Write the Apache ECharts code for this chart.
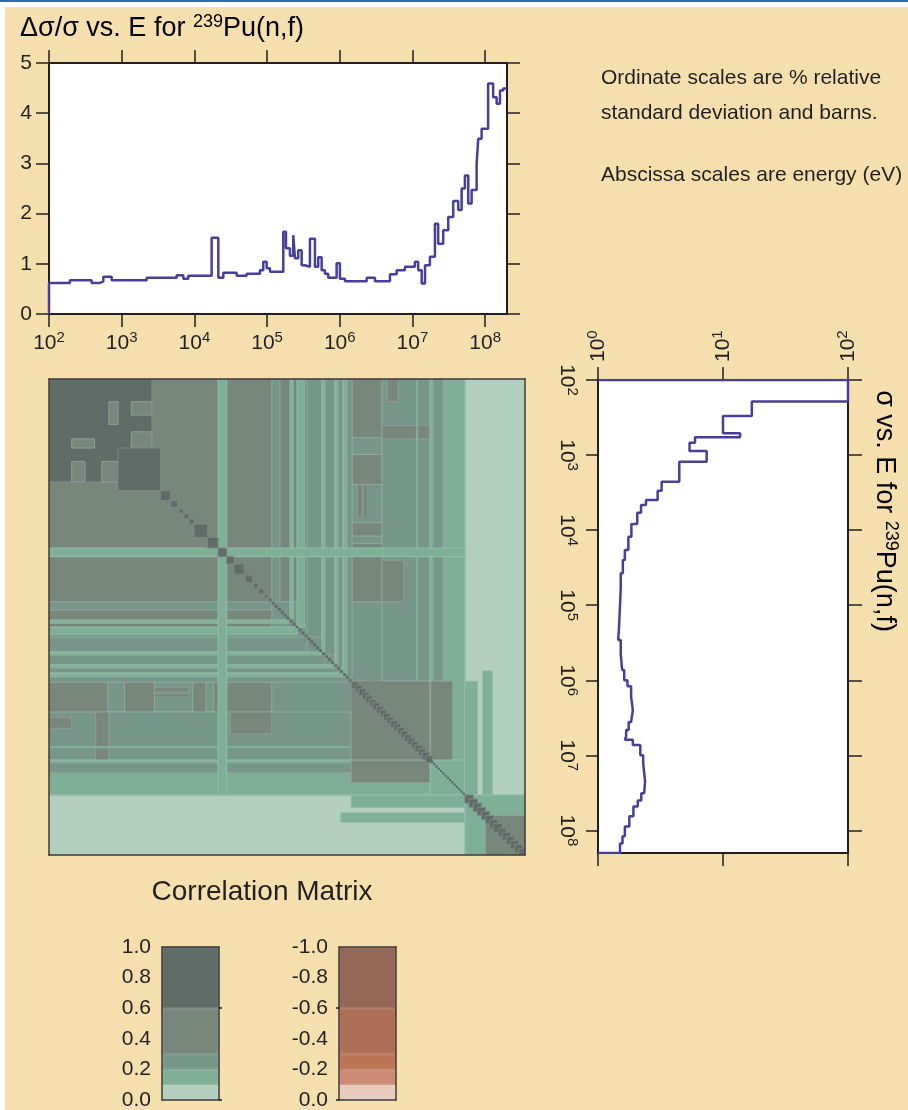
<!DOCTYPE html>
<html>
<head>
<meta charset="utf-8">
<script src="https://cdn.jsdelivr.net/npm/echarts@6/dist/echarts.min.js"></script>
<style>
  html, body { margin: 0; padding: 0; background: #ffffff; }
  #wrap { position: relative; width: 908px; height: 1110px; overflow: hidden; }
  #topline { position: absolute; left: 0; top: 0; width: 908px; height: 2px; background: #2d6db3; }
  #panel { position: absolute; left: 5px; top: 7px; width: 903px; height: 1103px; background: #f6dfaf; }
  #chart { position: absolute; left: 0; top: 0; width: 908px; height: 1110px; }
</style>
</head>
<body>
<div id="wrap">
  <div id="topline"></div>
  <div id="panel"></div>
  <div id="chart"></div>
</div>
<script>
// ---- 239Pu(n,f): relative standard deviation (%), group lower edges in eV ----
const uncEdges = [
  100, 194, 386, 503, 559, 728, 2207, 5706, 7047, 8245,
  17280, 21340, 25000, 38190, 52360, 79800, 88700, 98800, 109700, 167200,
  182000, 206500, 229300, 241900, 268500, 299200, 331900, 388900, 455900, 505800,
  563600, 625300, 695000, 905700, 1.006e6, 1.18e6, 2.345e6, 3.05e6, 4.91e6, 6.07e6,
  7.89e6, 1.08e7, 1.2e7, 1.34e7, 1.49e7, 1.74e7, 2.04e7, 2.26e7, 2.65e7, 3.11e7,
  3.64e7, 4.27e7, 4.75e7, 5.27e7, 5.86e7, 6.52e7, 7.64e7, 8.04e7, 8.95e7, 1.10e8,
  1.29e8, 1.44e8, 1.60e8, 1.77e8
];
const uncValues = [
  0.62, 0.67, 0.62, 0.65, 0.74, 0.67, 0.72, 0.77, 0.70, 0.76,
  1.52, 0.72, 0.82, 0.76, 0.80, 0.87, 1.04, 0.91, 0.84, 1.64,
  1.31, 1.16, 1.57, 1.11, 1.27, 0.97, 0.94, 1.50, 0.94, 1.13,
  0.87, 0.80, 0.72, 1.01, 0.70, 0.65, 0.72, 0.65, 0.79, 0.87,
  0.94, 1.04, 0.87, 0.61, 0.97, 1.14, 1.80, 1.40, 1.67, 1.93,
  2.25, 2.07, 2.50, 2.76, 2.20, 2.47, 3.00, 3.49, 3.69, 4.59,
  4.32, 4.19, 4.45, 4.49
];

// ---- 239Pu(n,f) cross section (barns), group lower edges in eV ----
const xsEdges = [
  100, 194, 302, 513, 580, 684, 882, 1224, 2260, 2978,
  3963, 4617, 5845, 8265, 12210, 18360, 24950, 37510, 60000, 1.0e5,
  2.1e5, 2.9e5, 4.5e5, 7.3e5, 1.0e6, 1.2e6, 1.65e6, 2.5e6, 3.6e6, 4.6e6,
  5.6e6, 6.2e6, 7.3e6, 1.0e7, 1.3e7, 2.2e7, 3.2e7, 4.0e7, 4.8e7, 6.5e7,
  8.9e7, 1.2e8, 1.5e8
];
const xsValues = [
  100, 17, 10, 13.7, 5.97, 5.4, 7.4, 4.47, 3.23, 3.0,
  2.42, 2.21, 2.06, 1.85, 1.75, 1.64, 1.58, 1.52, 1.50, 1.47,
  1.45, 1.52, 1.56, 1.62, 1.72, 1.84, 1.90, 1.84, 1.76, 1.68,
  1.64, 1.90, 2.18, 2.30, 2.38, 2.34, 2.22, 2.08, 1.92, 1.78,
  1.64, 1.57, 1.50
];
const energyMin = 100, energyMax = 2e8;

// ---- correlation matrix: blocks [E1lo, E1hi, E2lo, E2hi, r]; each is also drawn transposed ----
const corrBlocks = [
  // background levels
  [100, 2e8, 100, 2e8, 0.05],
  [100, 3.2e7, 100, 3.2e7, 0.45],
  // resolved resonance region
  [100, 2300, 100, 2300, 0.8],
  [620, 820, 200, 400, 0.45],
  [1230, 2300, 200, 300, 0.45],
  [1230, 2300, 500, 820, 0.45],
  [820, 3000, 820, 3000, 0.8],
  // fast region around the diagonal
  [8.9e4, 1.13e7, 8.9e4, 1.13e7, 0.25],
  [9.9e5, 1.13e7, 9.9e5, 1.13e7, 0.45],
  // fast groups against lower groups
  [8.9e4, 1.14e5, 100, 8.9e4, 0.25],
  [1.55e5, 1.70e5, 100, 1.55e5, 0.15],
  [1.92e5, 2.45e5, 100, 1.92e5, 0.15],
  [2.45e5, 2.60e5, 100, 2.45e5, 0.25],
  [2.60e5, 4.11e5, 100, 2.60e5, 0.25],
  [4.11e5, 4.51e5, 100, 4.11e5, 0.15],
  [4.51e5, 6.11e5, 100, 4.51e5, 0.25],
  [6.11e5, 6.70e5, 100, 6.11e5, 0.15],
  [6.70e5, 7.8e5, 100, 6.70e5, 0.25],
  [7.8e5, 8.8e5, 100, 7.8e5, 0.15],
  [8.8e5, 1.03e6, 100, 8.8e5, 0.25],
  [1.03e6, 2.56e6, 600, 1000, 0.25],
  [1.03e6, 2.56e6, 2500, 8000, 0.25],
  [1.2e6, 1.4e6, 2500, 7000, 0.45],
  [1.5e6, 1.6e6, 2500, 7000, 0.45],
  [1.03e6, 2.56e6, 1.2e4, 1.5e4, 0.25],
  [2.56e6, 1.11e7, 100, 9.9e5, 0.25],
  [3.0e6, 4.2e6, 100, 200, 0.45],
  [2.56e6, 1.11e7, 415, 620, 0.45],
  [2.56e6, 5.0e6, 2.5e4, 8.9e4, 0.45],
  [7.2e6, 7.7e6, 100, 9.9e5, 0.15],
  // 11-32 MeV groups
  [1.11e7, 3.2e7, 100, 1.11e7, 0.15],
  [1.21e7, 1.64e7, 100, 1.0e6, 0.25],
  [1.13e7, 2.2e7, 1.0e6, 1.11e7, 0.45],
  [1.11e7, 3.2e7, 1.11e7, 3.2e7, 0.15],
  // group around 20 keV
  [1.73e4, 2.25e4, 100, 1.73e4, 0.15],
  [2.25e4, 3.2e7, 1.73e4, 2.25e4, 0.15],
  // above 32 MeV
  [3.2e7, 2e8, 3.2e7, 2e8, 0.15],
  [6.0e7, 2e8, 6.0e7, 2e8, 0.45],
  [3.2e7, 4.7e7, 1.0e6, 3.2e7, 0.15],
  [5.5e7, 7.4e7, 7.3e5, 3.2e7, 0.15]
];
// self-correlation squares on the diagonal (eV ranges)
const diagSquares = [
  [3000, 4080], [4080, 5000], [5260, 6000], [6120, 7130], [7130, 8310], [8310, 1.25e4],
  [1.25e4, 1.73e4], [1.73e4, 2.25e4], [2.25e4, 2.81e4], [2.81e4, 3.82e4], [3.95e4, 4.92e4],
  [5.1e4, 5.85e4], [6.0e4, 7.0e4], [7.1e4, 7.9e4], [8.0e4, 8.9e4]
];
// fine groups along the diagonal
const diagFineMid = [8.9e4, 9.8e4, 1.07e5, 1.17e5, 1.28e5, 1.4e5, 1.53e5, 1.68e5, 1.84e5, 2.0e5,
  2.2e5, 2.4e5, 2.63e5, 2.88e5, 3.15e5, 3.45e5, 3.78e5, 4.13e5, 4.52e5, 4.95e5,
  5.42e5, 5.93e5, 6.5e5, 7.1e5, 7.8e5, 8.5e5, 9.3e5, 1.02e6];
const diagFineHigh = [1.13e7, 1.22e7, 1.3e7, 1.4e7, 1.5e7, 1.6e7, 1.72e7, 1.84e7, 1.97e7, 2.1e7,
  2.26e7, 2.42e7, 2.6e7, 2.78e7, 2.98e7, 3.2e7];
// groups strongly correlated with their neighbours (band along the diagonal)
const diagBandMid = [1.02e6, 1.13e6, 1.26e6, 1.4e6, 1.56e6, 1.74e6, 1.93e6, 2.15e6, 2.4e6, 2.67e6,
  2.97e6, 3.3e6, 3.68e6, 4.1e6, 4.55e6, 5.07e6, 5.64e6, 6.28e6, 7.0e6, 7.8e6, 8.7e6, 9.7e6, 1.08e7, 1.2e7];
const diagBandTop = [3.2e7, 3.63e7, 4.12e7, 4.68e7, 5.3e7, 6.0e7, 6.8e7, 7.7e7, 8.8e7, 1.0e8,
  1.13e8, 1.28e8, 1.45e8, 1.65e8, 1.87e8, 2.0e8];

// ---- colour key ----
const bandLimits = [0, 0.1, 0.2, 0.3, 0.6, 1.0];
const posColors = ['#b2cebd', '#7faf97', '#769689', '#78877c', '#606c67'];
const negColors = ['#e8cbbd', '#cd8a77', '#bc7454', '#ad6e58', '#946656'];

const decadeTicks = [1e2, 1e3, 1e4, 1e5, 1e6, 1e7, 1e8];
const sigmaTicks = [1, 10, 100];

const FONT = "'Liberation Sans', Arial, Helvetica, sans-serif";
const INK = '#231f20';
const LINE = '#473f9b';

function corrColor(r) {
  const a = Math.abs(r);
  let i = 0;
  while (i < bandLimits.length - 2 && a >= bandLimits[i + 1]) i++;
  return (r >= 0 ? posColors : negColors)[i];
}
function lighten(hex, k) {
  const n = parseInt(hex.slice(1), 16);
  const c = [(n >> 16) & 255, (n >> 8) & 255, n & 255].map(v => Math.round(v + (255 - v) * k));
  return 'rgb(' + c.join(',') + ')';
}
function stepPoints(edges, values, top) {
  const pts = [];
  values.forEach((v, i) => {
    const hi = i + 1 < edges.length ? edges[i + 1] : top;
    pts.push([edges[i], v], [hi, v]);
  });
  return pts;
}

// line data
const uncLine = [[energyMin, 0]].concat(stepPoints(uncEdges, uncValues, energyMax));
const xsLine = [[1, energyMin]]
  .concat(stepPoints(xsEdges, xsValues, energyMax).map(p => [p[1], p[0]]))
  .concat([[1, energyMax]]);

// matrix cells
const matrixCells = [];
corrBlocks.forEach(b => {
  matrixCells.push(b);
  if (!(b[0] === b[2] && b[1] === b[3])) matrixCells.push([b[2], b[3], b[0], b[1], b[4]]);
});
diagSquares.forEach(s => matrixCells.push([s[0], s[1], s[0], s[1], 1.0]));
[diagBandMid, diagBandTop].forEach(e => {
  for (let i = 0; i + 2 < e.length; i++) matrixCells.push([e[i], e[i + 2], e[i], e[i + 2], 1.0]);
});
[diagFineMid, diagFineHigh].forEach(e => {
  for (let i = 0; i + 1 < e.length; i++) matrixCells.push([e[i], e[i + 1], e[i], e[i + 1], 1.0]);
});

// ---- axis helpers ----
const pow10 = v => '{b|10}{s|' + Math.round(Math.log10(v)) + '}';
const powRich = {
  b: { fontFamily: FONT, fontSize: 21, color: INK },
  s: { fontFamily: FONT, fontSize: 15, color: INK, padding: [0, 0, 11, 0] }
};
function frameLine(color, width) {
  return { show: true, onZero: false, lineStyle: { color: color, width: width } };
}
function ticks(values, len) {
  const t = { show: true, length: len, inside: false, lineStyle: { color: INK, width: 1.5 } };
  if (values) t.customValues = values;
  return t;
}
const noLabel = { show: false };
const noSplit = { show: false };
const noTick = { show: false };
const FRAME = '#3a3a3a';

const xAxes = [
  // 0,1: uncertainty plot
  { gridIndex: 0, type: 'log', logBase: 10, min: energyMin, max: energyMax, position: 'bottom',
    axisLine: frameLine(INK, 2), axisTick: ticks(decadeTicks, 13),
    axisLabel: { show: true, customValues: decadeTicks, formatter: pow10, rich: powRich, margin: 16 },
    splitLine: noSplit },
  { gridIndex: 0, type: 'log', logBase: 10, min: energyMin, max: energyMax, position: 'top',
    axisLine: frameLine(INK, 2), axisTick: ticks(decadeTicks, 13), axisLabel: noLabel, splitLine: noSplit },
  // 2,3: cross-section plot (sigma across)
  { gridIndex: 1, type: 'log', logBase: 10, min: 1, max: 100, position: 'top',
    axisLine: frameLine(INK, 2), axisTick: ticks(sigmaTicks, 13),
    axisLabel: { show: true, customValues: sigmaTicks, formatter: pow10, rich: powRich, rotate: -90, margin: 18 },
    splitLine: noSplit },
  { gridIndex: 1, type: 'log', logBase: 10, min: 1, max: 100, position: 'bottom',
    axisLine: frameLine(INK, 2), axisTick: ticks(sigmaTicks, 13), axisLabel: noLabel, splitLine: noSplit },
  // 4,5: correlation matrix frame
  { gridIndex: 2, type: 'log', logBase: 10, min: energyMin, max: energyMax, position: 'bottom', z: 10,
    axisLine: frameLine(FRAME, 1.5), axisTick: noTick, axisLabel: noLabel, splitLine: noSplit },
  { gridIndex: 2, type: 'log', logBase: 10, min: energyMin, max: energyMax, position: 'top', z: 10,
    axisLine: frameLine(FRAME, 1.5), axisTick: noTick, axisLabel: noLabel, splitLine: noSplit },
  // 6,7: positive key
  { gridIndex: 3, type: 'category', data: ['r'], position: 'bottom', z: 10,
    axisLine: frameLine(FRAME, 1.5), axisTick: noTick, axisLabel: noLabel, splitLine: noSplit },
  { gridIndex: 3, type: 'category', data: ['r'], position: 'top', z: 10,
    axisLine: frameLine(FRAME, 1.5), axisTick: noTick, axisLabel: noLabel, splitLine: noSplit },
  // 8,9: negative key
  { gridIndex: 4, type: 'category', data: ['r'], position: 'bottom', z: 10,
    axisLine: frameLine(FRAME, 1.5), axisTick: noTick, axisLabel: noLabel, splitLine: noSplit },
  { gridIndex: 4, type: 'category', data: ['r'], position: 'top', z: 10,
    axisLine: frameLine(FRAME, 1.5), axisTick: noTick, axisLabel: noLabel, splitLine: noSplit }
];

const keyLabel = { show: true, fontFamily: FONT, fontSize: 21, color: INK, margin: 11, formatter: v => Number(v).toFixed(1) };

const yAxes = [
  // 0,1: uncertainty plot
  { gridIndex: 0, type: 'value', min: 0, max: 5, interval: 1, position: 'left',
    axisLine: frameLine(INK, 2), axisTick: ticks(null, 13),
    axisLabel: { show: true, fontFamily: FONT, fontSize: 21, color: INK, margin: 17 }, splitLine: noSplit },
  { gridIndex: 0, type: 'value', min: 0, max: 5, interval: 1, position: 'right',
    axisLine: frameLine(INK, 2), axisTick: ticks(null, 13), axisLabel: noLabel, splitLine: noSplit },
  // 2,3: cross-section plot (energy downwards)
  { gridIndex: 1, type: 'log', logBase: 10, min: energyMin, max: energyMax, inverse: true, position: 'left',
    axisLine: frameLine(INK, 2), axisTick: ticks(decadeTicks, 12),
    axisLabel: { show: true, customValues: decadeTicks, formatter: pow10, rich: powRich, rotate: -90, margin: 18 },
    splitLine: noSplit },
  { gridIndex: 1, type: 'log', logBase: 10, min: energyMin, max: energyMax, inverse: true, position: 'right',
    axisLine: frameLine(INK, 2), axisTick: ticks(decadeTicks, 14), axisLabel: noLabel, splitLine: noSplit },
  // 4,5: correlation matrix frame
  { gridIndex: 2, type: 'log', logBase: 10, min: energyMin, max: energyMax, inverse: true, position: 'left', z: 10,
    axisLine: frameLine(FRAME, 1.5), axisTick: noTick, axisLabel: noLabel, splitLine: noSplit },
  { gridIndex: 2, type: 'log', logBase: 10, min: energyMin, max: energyMax, inverse: true, position: 'right', z: 10,
    axisLine: frameLine(FRAME, 1.5), axisTick: noTick, axisLabel: noLabel, splitLine: noSplit },
  // 6,7: positive key
  { gridIndex: 3, type: 'value', min: 0, max: 1, interval: 0.2, position: 'left', z: 10,
    axisLine: frameLine(FRAME, 1.5), axisTick: noTick, axisLabel: keyLabel, splitLine: noSplit },
  { gridIndex: 3, type: 'value', min: 0, max: 1, interval: 0.2, position: 'right', z: 10,
    axisLine: frameLine(FRAME, 1.5), axisTick: ticks([0, 0.6], 3), axisLabel: noLabel, splitLine: noSplit },
  // 8,9: negative key
  { gridIndex: 4, type: 'value', min: -1, max: 0, interval: 0.2, inverse: true, position: 'left', z: 10,
    axisLine: frameLine(FRAME, 1.5), axisTick: ticks([-0.6, 0], 3), axisLabel: keyLabel, splitLine: noSplit },
  { gridIndex: 4, type: 'value', min: -1, max: 0, interval: 0.2, inverse: true, position: 'right', z: 10,
    axisLine: frameLine(FRAME, 1.5), axisTick: noTick, axisLabel: noLabel, splitLine: noSplit }
];

// key bars: each band outlined in a slightly lighter tint so neighbours meet without gaps
const keySeries = [];
posColors.forEach((c, i) => keySeries.push({
  type: 'bar', xAxisIndex: 6, yAxisIndex: 6, stack: 'pos', barWidth: '100%', silent: true,
  data: [bandLimits[i + 1] - bandLimits[i]],
  itemStyle: { color: c, borderColor: lighten(c, 0.1), borderWidth: 1.5 }
}));
negColors.forEach((c, i) => keySeries.push({
  type: 'bar', xAxisIndex: 8, yAxisIndex: 8, stack: 'neg', barWidth: '100%', silent: true,
  data: [-(bandLimits[i + 1] - bandLimits[i])],
  itemStyle: { color: c, borderColor: lighten(c, 0.1), borderWidth: 1.5 }
}));

const titleRich = {
  a: { fontFamily: FONT, fontSize: 27, color: INK },
  s: { fontFamily: FONT, fontSize: 18, color: INK, padding: [0, 0, 14, 0] }
};

const option = {
  backgroundColor: 'transparent',
  animation: false,
  grid: [
    { left: 49, top: 63, width: 458, height: 251, show: true, backgroundColor: '#ffffff', borderWidth: 0, outerBoundsMode: 'none' },
    { left: 598, top: 380, width: 250, height: 473, show: true, backgroundColor: '#ffffff', borderWidth: 0, outerBoundsMode: 'none' },
    { left: 49, top: 379, width: 476, height: 476, outerBoundsMode: 'none' },
    { left: 162, top: 947, width: 57, height: 153, show: true, backgroundColor: '#7c8f86', borderWidth: 0, outerBoundsMode: 'none' },
    { left: 339, top: 947, width: 57, height: 153, show: true, backgroundColor: '#b88068', borderWidth: 0, outerBoundsMode: 'none' }
  ],
  xAxis: xAxes,
  yAxis: yAxes,
  series: [
    {
      type: 'custom', xAxisIndex: 4, yAxisIndex: 4, clip: true, silent: true,
      dimensions: ['e1lo', 'e1hi', 'e2lo', 'e2hi', 'r'],
      encode: { x: [0, 1], y: [2, 3] },
      data: matrixCells,
      renderItem: function (params, api) {
        const a = api.coord([api.value(0), api.value(2)]);
        const b = api.coord([api.value(1), api.value(3)]);
        const w = Math.abs(b[0] - a[0]), h = Math.abs(b[1] - a[1]);
        const fill = corrColor(api.value(4));
        const edge = (w > 3 && h > 3) ? lighten(fill, 0.18) : null;
        return {
          type: 'rect',
          shape: { x: Math.min(a[0], b[0]), y: Math.min(a[1], b[1]), width: w, height: h },
          style: { fill: fill, stroke: edge, lineWidth: 1 }
        };
      }
    },
    {
      type: 'line', xAxisIndex: 0, yAxisIndex: 0, data: uncLine, showSymbol: false, silent: true,
      lineStyle: { color: LINE, width: 2.5 }
    },
    {
      type: 'line', xAxisIndex: 2, yAxisIndex: 2, data: xsLine, showSymbol: false, silent: true,
      lineStyle: { color: LINE, width: 2.5 }
    }
  ].concat(keySeries),
  graphic: [
    { type: 'text', x: 20, y: 29, silent: true,
      style: { text: '{a|Δσ/σ vs. E for }{s|239}{a|Pu(n,f)}', rich: titleRich, align: 'left', verticalAlign: 'middle' } },
    { type: 'text', x: 884, y: 511, rotation: -Math.PI / 2, silent: true,
      style: { text: '{a|σ vs. E for }{s|239}{a|Pu(n,f)}', rich: titleRich, align: 'center', verticalAlign: 'middle' } },
    { type: 'text', x: 601, y: 78, silent: true,
      style: { text: 'Ordinate scales are % relative', fontFamily: FONT, fontSize: 21, fill: INK, align: 'left', verticalAlign: 'middle' } },
    { type: 'text', x: 601, y: 113, silent: true,
      style: { text: 'standard deviation and barns.', fontFamily: FONT, fontSize: 21, fill: INK, align: 'left', verticalAlign: 'middle' } },
    { type: 'text', x: 601, y: 175, silent: true,
      style: { text: 'Abscissa scales are energy (eV)', fontFamily: FONT, fontSize: 21, fill: INK, align: 'left', verticalAlign: 'middle' } },
    { type: 'text', x: 262, y: 892, silent: true,
      style: { text: 'Correlation Matrix', fontFamily: FONT, fontSize: 28, fill: INK, align: 'center', verticalAlign: 'middle' } }
  ]
};

const chart = echarts.init(document.getElementById('chart'), null, { renderer: 'canvas' });
chart.setOption(option);
</script>
</body>
</html>
